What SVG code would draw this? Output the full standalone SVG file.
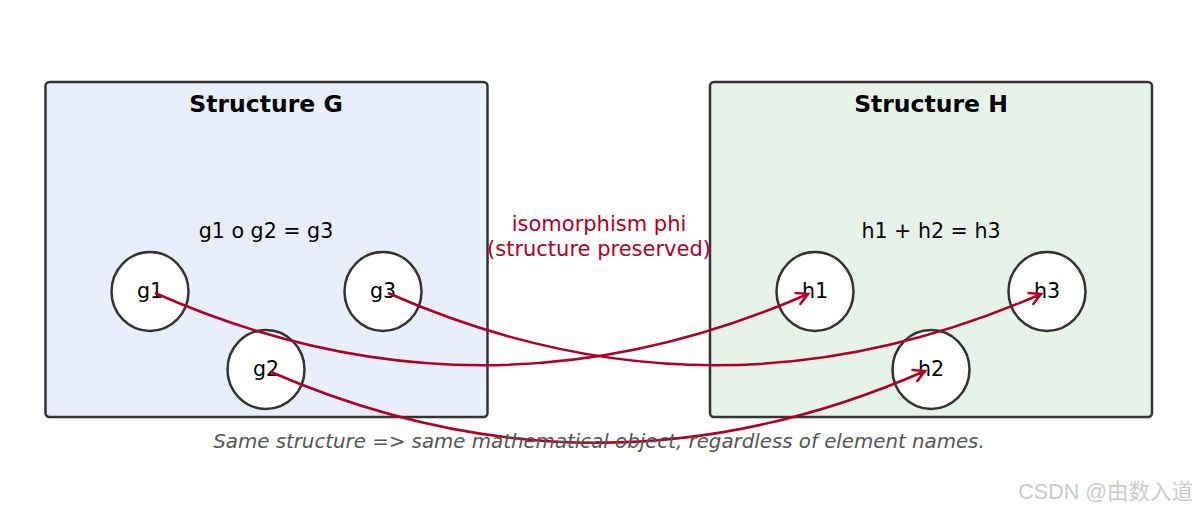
<svg xmlns="http://www.w3.org/2000/svg" width="1197" height="512" viewBox="0 0 1197 512">
<style>
.box{stroke:#333;stroke-width:2.5}
.node{fill:#fff;stroke:#333;stroke-width:2.5}
.t{font-family:"DejaVu Sans",sans-serif;font-size:20.6px;fill:#000;text-anchor:middle}
.title{font-family:"DejaVu Sans",sans-serif;font-size:23.5px;font-weight:bold;fill:#000;text-anchor:middle}
.red{font-family:"DejaVu Sans",sans-serif;font-size:21px;fill:#b00026;text-anchor:middle}
.note{font-family:"DejaVu Sans",sans-serif;font-size:19.8px;font-style:italic;fill:#555;text-anchor:middle}
.wm{font-family:"Liberation Sans","Noto Sans CJK SC",sans-serif;font-size:21.5px;fill:#cbcbcb;text-anchor:end}
.arr{fill:none;stroke:#b00026;stroke-width:2.5;marker-end:url(#ah)}
</style>
<defs>
<marker id="ah" markerUnits="userSpaceOnUse" markerWidth="16" markerHeight="16" refX="13" refY="7" orient="auto" viewBox="0 0 16 14">
<path d="M2,1 L13,7 L2,13" fill="none" stroke="#b00026" stroke-width="2.5" stroke-linecap="round" stroke-linejoin="miter"/>
</marker>
</defs>
<rect width="1197" height="512" fill="#fff"/>
<g id="structureG">
<rect class="box" x="45.5" y="82" width="442" height="335" rx="4" fill="#e8effb"/>
<text class="title" x="266" y="112">Structure G</text>
<text class="t" x="266" y="238">g1 o g2 = g3</text>
</g>
<g id="structureH">
<rect class="box" x="710" y="82" width="442" height="335" rx="4" fill="#e6f3e8"/>
<text class="title" x="931" y="112">Structure H</text>
<text class="t" x="931" y="238">h1 + h2 = h3</text>
</g>
<g id="g1"><ellipse class="node" cx="150" cy="291.5" rx="38.5" ry="39.5"/><text class="t" x="150" y="298">g1</text></g>
<g id="g2"><ellipse class="node" cx="266" cy="369.5" rx="38.5" ry="39.5"/><text class="t" x="266" y="376">g2</text></g>
<g id="g3"><ellipse class="node" cx="383" cy="291.5" rx="38.5" ry="39.5"/><text class="t" x="383" y="298">g3</text></g>
<g id="h1"><ellipse class="node" cx="815" cy="291.5" rx="38.5" ry="39.5"/><text class="t" x="815" y="298">h1</text></g>
<g id="h2"><ellipse class="node" cx="931" cy="369.5" rx="38.5" ry="39.5"/><text class="t" x="931" y="376">h2</text></g>
<g id="h3"><ellipse class="node" cx="1047" cy="291.5" rx="38.5" ry="39.5"/><text class="t" x="1047" y="298">h3</text></g>
<g id="connectors">
<path class="arr" d="M155,293 Q481,437 808,294"/>
<path class="arr" d="M388,293 Q714,437 1041,294"/>
<path class="arr" d="M271,372 Q598,514 925,371"/>
</g>
<g id="labels">
<text class="red" x="599" y="231">isomorphism phi</text>
<text class="red" x="599" y="256">(structure preserved)</text>
<text class="note" x="599" y="448">Same structure =&gt; same mathematical object, regardless of element names.</text>
<text class="wm" x="1193" y="499">CSDN @由数入道</text>
</g>
</svg>
